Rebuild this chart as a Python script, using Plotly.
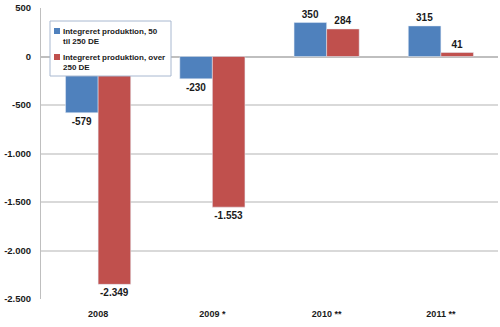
import plotly.graph_objects as go

categories = ["2008", "2009 *", "2010 **", "2011 **"]
series_names = ["Integreret produktion, 50<br>til 250 DE", "Integreret produktion, over<br>250 DE"]
small = [-579, -230, 350, 315]
large = [-2349, -1553, 284, 41]
tick_vals = [500, 0, -500, -1000, -1500, -2000, -2500]
tick_text = ["500", "0", "-500", "-1.000", "-1.500", "-2.000", "-2.500"]
colors = ["#4F81BD", "#C0504D"]

def fmt(v):
    s = f"{abs(v):,}".replace(",", ".")
    return "<b>" + ("-" if v < 0 else "") + s + "</b>"

fig = go.Figure()
for name, vals, c in zip(series_names, [small, large], colors):
    fig.add_trace(go.Bar(
        x=categories, y=vals, name=name, marker_color=c,
        text=[fmt(v) for v in vals], textposition="outside",
        textfont=dict(size=10, color="#1a1a1a", family="Liberation Sans"),
        cliponaxis=False, showlegend=False,
    ))

# custom legend box (paper coords), matching the reference's compact legend
L, R, T, B = 41, 2, 8, 28
W, H = 500 - L - R, 327 - T - B
px = lambda x: (x - L) / W
py = lambda y: (327 - B - y) / H

fig.add_shape(type="rect", xref="paper", yref="paper",
              x0=px(50), x1=px(171), y0=py(76), y1=py(21),
              fillcolor="white", line=dict(color="#a8b8d0", width=1), layer="above")
for i, (name, c) in enumerate(zip(series_names, colors)):
    ytop = 25 + i * 26
    fig.add_shape(type="rect", xref="paper", yref="paper",
                  x0=px(54), x1=px(60), y0=py(ytop + 9), y1=py(ytop + 3),
                  fillcolor=c, line=dict(width=0), layer="above")
    fig.add_annotation(xref="paper", yref="paper", x=px(61), y=py(ytop),
                       xanchor="left", yanchor="top", align="left", showarrow=False,
                       text="<b>" + name + "</b>",
                       font=dict(size=8, family="Liberation Sans", color="#1a1a1a"))

fig.update_layout(
    width=500, height=327,
    margin=dict(l=L, r=R, t=T, b=B),
    paper_bgcolor="white", plot_bgcolor="white",
    barmode="group", bargap=0.43, bargroupgap=0,
    font=dict(family="Liberation Sans", size=10, color="#1a1a1a"),
    showlegend=False,
    xaxis=dict(showgrid=False, ticks="", tickfont=dict(size=9, family="Liberation Sans"),
               showline=False, ticklabelstandoff=8,
               tickvals=categories, ticktext=["<b>%s</b>" % c for c in categories]),
    yaxis=dict(range=[-2500, 500], tickvals=tick_vals,
               ticktext=["<b>%s</b>" % t for t in tick_text],
               showgrid=True, gridcolor="#d9d9d9", gridwidth=1.5,
               zeroline=True, zerolinecolor="#bfbfbf", zerolinewidth=1.5,
               showline=True, linecolor="#bfbfbf", linewidth=1,
               ticks="", ticklabelstandoff=7,
               tickfont=dict(size=9.5, family="Liberation Sans")),
)
fig.write_html("out.html")
